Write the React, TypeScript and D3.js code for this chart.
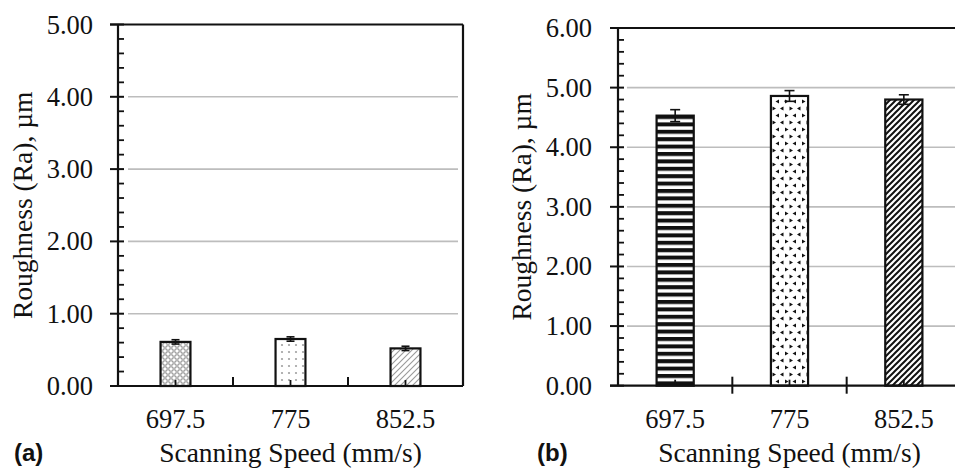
import React from "react";
import * as d3 from "d3";

// ---- data ----
const categories = ["697.5", "775", "852.5"];
const roughnessA = [0.61, 0.65, 0.52];
const errorA = [0.03, 0.03, 0.03];
const roughnessB = [4.53, 4.86, 4.8];
const errorB = [0.1, 0.09, 0.08];
const yTicksA = [0, 1, 2, 3, 4, 5];
const yTicksB = [0, 1, 2, 3, 4, 5, 6];
const xTitle = "Scanning Speed (mm/s)";
const yTitle = "Roughness (Ra), µm";
const panelLabels = ["(a)", "(b)"];
const patternsA = ["pA1", "pA2", "pA3"];
const patternsB = ["pB1", "pB2", "pB3"];

const SERIF = "'Liberation Serif', 'Times New Roman', serif";
const SANS = "'Liberation Sans', Arial, sans-serif";

type PanelProps = {
  x0: number;
  x1: number;
  yTop: number;
  yBottom: number;
  yMax: number;
  ticks: number[];
  values: number[];
  errors: number[];
  patterns: string[];
  barFrac: number;
  capW: number;
  gridX0: number;
  gridX1: number;
  lineRight: number;
  rightBorder: boolean;
  catTickDown: number;
  label: string;
  labelX: number;
  yTitleX: number;
  tickLabelGap: number;
};

function Panel(p: PanelProps) {
  const x = d3.scaleBand<string>().domain(categories).range([p.x0, p.x1]).paddingInner(0).paddingOuter(0);
  const y = d3.scaleLinear().domain([0, p.yMax]).range([p.yBottom, p.yTop]);
  const minorTicks = d3.range(0, p.yMax * 5 + 1).map((i) => i * 0.2).filter((v) => Math.abs(v - Math.round(v)) > 1e-6);
  const bw = x.bandwidth() * p.barFrac;
  const cx = (c: string) => (x(c) as number) + x.bandwidth() / 2;
  const boundaries = categories.slice(1).map((c) => x(c) as number);
  return (
    <g>
      {p.ticks.filter((t) => t > 0 && t < p.yMax).map((t) => (
        <line key={"g" + t} x1={p.gridX0} x2={p.gridX1} y1={y(t)} y2={y(t)} stroke="#bdbdbd" strokeWidth={1.6} />
      ))}
      {categories.map((c, i) => {
        const v = p.values[i];
        const e = p.errors[i];
        const bx = cx(c) - bw / 2;
        return (
          <g key={"b" + c}>
            <rect x={bx} y={y(v)} width={bw} height={p.yBottom - y(v)} fill="#fff" />
            <rect x={bx} y={y(v)} width={bw} height={p.yBottom - y(v)} fill={`url(#${p.patterns[i]})`} stroke="#111" strokeWidth={2.2} />
            <line x1={cx(c)} x2={cx(c)} y1={y(v + e)} y2={y(v - e)} stroke="#111" strokeWidth={1.6} />
            <line x1={cx(c) - p.capW / 2} x2={cx(c) + p.capW / 2} y1={y(v + e)} y2={y(v + e)} stroke="#111" strokeWidth={1.6} />
            <line x1={cx(c) - p.capW / 2} x2={cx(c) + p.capW / 2} y1={y(v - e)} y2={y(v - e)} stroke="#111" strokeWidth={1.6} />
            <line x1={cx(c)} x2={cx(c)} y1={p.yBottom - 6} y2={p.yBottom} stroke="#111" strokeWidth={1.8} />
          </g>
        );
      })}
      <line x1={p.x0 - 8} x2={p.lineRight} y1={p.yTop} y2={p.yTop} stroke="#111" strokeWidth={2.2} />
      {p.rightBorder && <line x1={p.x1} x2={p.x1} y1={p.yTop} y2={p.yBottom} stroke="#111" strokeWidth={2.2} />}
      <line x1={p.x0} x2={p.x0} y1={p.yTop} y2={p.yBottom} stroke="#111" strokeWidth={2.2} />
      <line x1={p.x0 - 8} x2={p.lineRight} y1={p.yBottom} y2={p.yBottom} stroke="#111" strokeWidth={2.2} />
      {p.ticks.map((t) => (
        <line key={"mt" + t} x1={p.x0 - 8} x2={p.x0 + 6} y1={y(t)} y2={y(t)} stroke="#111" strokeWidth={2} />
      ))}
      {minorTicks.map((t) => (
        <line key={"nt" + t} x1={p.x0} x2={p.x0 + 6} y1={y(t)} y2={y(t)} stroke="#111" strokeWidth={1.8} />
      ))}
      {p.ticks.map((t) => (
        <text key={"tl" + t} x={p.x0 - p.tickLabelGap} y={y(t) + 9} textAnchor="end" fontFamily={SERIF} fontSize={26.5} fill="#111">
          {t.toFixed(2)}
        </text>
      ))}
      {boundaries.map((b, i) => (
        <line key={"cb" + i} x1={b} x2={b} y1={p.yBottom - 9} y2={p.yBottom + p.catTickDown} stroke="#111" strokeWidth={2} />
      ))}
      {categories.map((c) => (
        <text key={"xl" + c} x={cx(c)} y={428} textAnchor="middle" fontFamily={SERIF} fontSize={26.5} fill="#111">
          {c}
        </text>
      ))}
      <text x={(p.x0 + p.x1) / 2} y={462} textAnchor="middle" fontFamily={SERIF} fontSize={27.5} fill="#111">
        {xTitle}
      </text>
      <text
        transform={`translate(${p.yTitleX},${(p.yTop + p.yBottom) / 2}) rotate(-90)`}
        textAnchor="middle"
        fontFamily={SERIF}
        fontSize={27.5}
        fill="#111"
      >
        {yTitle}
      </text>
      <text x={p.labelX} y={461} fontFamily={SANS} fontWeight="bold" fontSize={24} fill="#111">
        {p.label}
      </text>
    </g>
  );
}

export default function App() {
  return (
    <svg width={955} height={469} style={{ position: "absolute", left: 0, top: 0, background: "#fff" }}>
      <defs>
        <pattern id="pA1" patternUnits="userSpaceOnUse" width={6} height={6}>
          <rect width={6} height={6} fill="#fff" />
          <circle cx={0} cy={0} r={2.2} fill="none" stroke="#9a9a9a" strokeWidth={0.9} />
          <circle cx={6} cy={0} r={2.2} fill="none" stroke="#9a9a9a" strokeWidth={0.9} />
          <circle cx={0} cy={6} r={2.2} fill="none" stroke="#9a9a9a" strokeWidth={0.9} />
          <circle cx={6} cy={6} r={2.2} fill="none" stroke="#9a9a9a" strokeWidth={0.9} />
          <circle cx={3} cy={3} r={2.2} fill="none" stroke="#9a9a9a" strokeWidth={0.9} />
        </pattern>
        <pattern id="pA2" patternUnits="userSpaceOnUse" width={7} height={7}>
          <rect width={7} height={7} fill="#fff" />
          <circle cx={2} cy={2} r={1.1} fill="#a0a0a0" />
        </pattern>
        <pattern id="pA3" patternUnits="userSpaceOnUse" width={6} height={6}>
          <rect width={6} height={6} fill="#fff" />
          <path d="M0,6 L6,0 M-1,1 L1,-1 M5,7 L7,5" stroke="#9a9a9a" strokeWidth={1.1} />
        </pattern>
        <pattern id="pB1" patternUnits="userSpaceOnUse" width={8} height={7.4} y={115}>
          <rect width={8} height={7.4} fill="#fff" />
          <rect y={0} width={8} height={4} fill="#111" />
        </pattern>
        <pattern id="pB2" patternUnits="userSpaceOnUse" width={17} height={14}>
          <rect width={17} height={14} fill="#fff" />
          <path d="M3,1.5 L6.5,3.5 L3,5.5 Z" fill="#111" />
          <path d="M14,1.5 L10.5,3.5 L14,5.5 Z" fill="#111" />
          <path d="M7.5,8.5 L11,10.5 L7.5,12.5 Z" fill="#111" />
          <path d="M1.5,8.5 L-2,10.5 L1.5,12.5 Z" fill="#111" />
          <path d="M18.5,8.5 L15,10.5 L18.5,12.5 Z" fill="#111" />
        </pattern>
        <pattern id="pB3" patternUnits="userSpaceOnUse" width={6} height={6}>
          <rect width={6} height={6} fill="#fff" />
          <path d="M0,6 L6,0 M-1,1 L1,-1 M5,7 L7,5" stroke="#111" strokeWidth={2} />
        </pattern>
      </defs>
      <Panel
        x0={118}
        x1={463}
        yTop={24.5}
        yBottom={386}
        yMax={5}
        ticks={yTicksA}
        values={roughnessA}
        errors={errorA}
        patterns={patternsA}
        barFrac={0.26}
        capW={8}
        gridX0={128}
        gridX1={458}
        lineRight={463}
        rightBorder={true}
        catTickDown={1}
        label={panelLabels[0]}
        labelX={14}
        yTitleX={32}
        tickLabelGap={25}
      />
      <Panel
        x0={618}
        x1={961}
        yTop={28}
        yBottom={385.7}
        yMax={6}
        ticks={yTicksB}
        values={roughnessB}
        errors={errorB}
        patterns={patternsB}
        barFrac={0.325}
        capW={10}
        gridX0={627}
        gridX1={955}
        lineRight={955}
        rightBorder={false}
        catTickDown={8}
        label={panelLabels[1]}
        labelX={537}
        yTitleX={531}
        tickLabelGap={26}
      />
    </svg>
  );
}
